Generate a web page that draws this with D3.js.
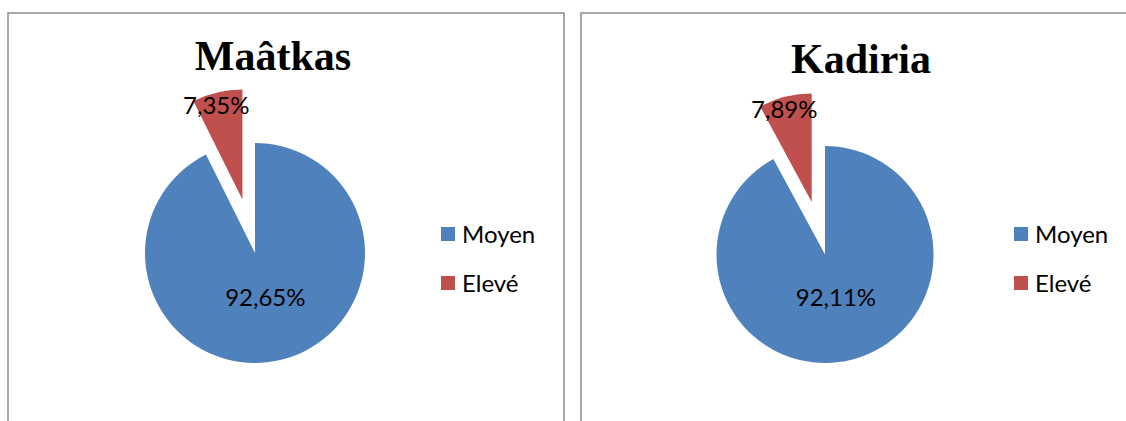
<!DOCTYPE html>
<html>
<head>
<meta charset="utf-8">
<script src="https://cdn.jsdelivr.net/npm/d3@7"></script>
<style>
  html, body { margin: 0; padding: 0; background: #fff; }
  svg { display: block; }
</style>
</head>
<body>
<svg id="chart" width="1126" height="421"></svg>
<script>
// ---- data ----
const titles = ["Maâtkas", "Kadiria"];
const categories = ["Moyen", "Elevé"];
const maatkasValues = [92.65, 7.35];
const kadiriaValues = [92.11, 7.89];
const valueLabels = [["92,65%", "7,35%"], ["92,11%", "7,89%"]];
const seriesValues = [maatkasValues, kadiriaValues];

// ---- layout / style ----
const colors = ["#4F81BD", "#C0504D"];
const panels = [
  { x: 8,   y: 13, w: 556, h: 430, cx: 255, cy: 253,   r: 110,   tx: 273, ty: 70, lx: 441 },
  { x: 581, y: 13, w: 560, h: 430, cx: 825, cy: 254.5, r: 108.5, tx: 861, ty: 73, lx: 1014 }
];

const svg = d3.select("#chart");
const color = d3.scaleOrdinal().domain(categories).range(colors);
const pie = d3.pie().sort(null).value(d => d.value);

panels.forEach((p, i) => {
  const g = svg.append("g");
  g.append("rect")
    .attr("x", p.x).attr("y", p.y).attr("width", p.w).attr("height", p.h)
    .attr("fill", "#fff").attr("stroke", "#8c8c8c").attr("stroke-width", 1.5);

  g.append("text")
    .attr("x", p.tx).attr("y", p.ty)
    .attr("text-anchor", "middle")
    .attr("font-family", "'Liberation Serif', 'Times New Roman', serif")
    .attr("font-weight", "bold")
    .attr("font-size", 42)
    .attr("fill", "#000")
    .text(titles[i]);

  const data = categories.map((c, k) => ({ cat: c, value: seriesValues[i][k], label: valueLabels[i][k] }));
  const arcs = pie(data);
  const arc = d3.arc().innerRadius(0).outerRadius(p.r);
  const explode = 0.5 * p.r;

  const pg = g.append("g").attr("transform", `translate(${p.cx},${p.cy})`);

  arcs.forEach((a, k) => {
    const mid = (a.startAngle + a.endAngle) / 2;
    const off = k === 1 ? explode : 0;
    const dx = Math.sin(mid) * off, dy = -Math.cos(mid) * off;
    const sg = pg.append("g").attr("transform", `translate(${dx},${dy})`);
    sg.append("path").attr("d", arc(a)).attr("fill", color(a.data.cat));
    const lr = k === 1 ? 0.88 * p.r : 0.41 * p.r;
    const labArc = d3.arc().innerRadius(lr).outerRadius(lr);
    const [lx, ly] = labArc.centroid(a);
    sg.append("text")
      .attr("x", lx + (k === 1 ? -4 : 0)).attr("y", ly).attr("dy", "0.36em")
      .attr("text-anchor", "middle")
      .attr("font-family", "Lato, 'Noto Sans', sans-serif")
      .attr("font-size", 24)
      .attr("fill", "#000")
      .text(a.data.label);
  });

  // legend
  const lg = g.append("g");
  categories.forEach((c, k) => {
    const y = 227 + k * 49;
    lg.append("rect").attr("x", p.lx).attr("y", y).attr("width", 14).attr("height", 14).attr("fill", color(c));
    lg.append("text")
      .attr("x", p.lx + 21).attr("y", y + 7).attr("dy", "0.36em")
      .attr("font-family", "Lato, 'Noto Sans', sans-serif")
      .attr("font-size", 24)
      .attr("fill", "#000")
      .text(c);
  });
});
</script>
</body>
</html>
